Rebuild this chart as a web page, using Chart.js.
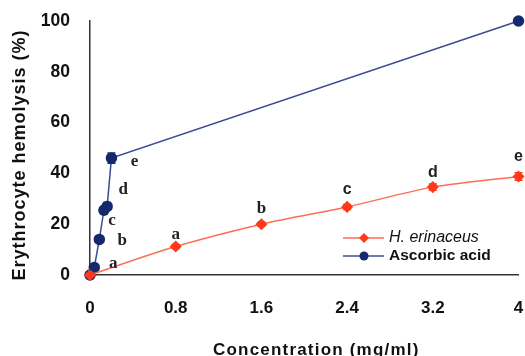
<!DOCTYPE html>
<html>
<head>
<meta charset="utf-8">
<script src="https://cdn.jsdelivr.net/npm/chart.js@4.4.1/dist/chart.umd.min.js"></script>
<style>
  html, body { margin: 0; padding: 0; background: #fff; }
  #wrap { width: 525px; height: 356px; position: relative; }
</style>
</head>
<body>
<div id="wrap"><canvas id="chart" width="525" height="356"></canvas></div>
<script>
// data
const xTicks = [0, 0.8, 1.6, 2.4, 3.2, 4];
const yTicks = [0, 20, 40, 60, 80, 100];

const herConc = [0, 0.8, 1.6, 2.4, 3.2, 4];
const herHemo = [0, 11.2, 20, 26.8, 34.6, 38.8];
const herErr = [0, 0.8, 0.8, 1, 1.2, 1.5];
const herLetters = ['', 'a', 'b', 'c', 'd', 'e'];

const ascConc = [0, 0.04, 0.087, 0.13, 0.16, 0.2, 4];
const ascHemo = [0, 3, 14, 25.5, 27, 46, 100];
const ascErr = [0, 1, 1, 1.5, 1.5, 2, 0];
const ascLetters = ['', 'a', 'b', 'c', 'd', 'e', ''];

const herColor = '#ff3a1a';
const herLine = '#ff6d55';
const ascColor = '#15296b';
const ascLine = '#3a4d92';

const toPts = (xs, ys) => xs.map((x, i) => ({ x: x, y: ys[i] }));

// error bars, letters, titles and legend
const extras = {
    id: 'extras',
    afterDatasetsDraw(chart) {
        const ctx = chart.ctx;
        const xs = chart.scales.x, ys = chart.scales.y;
        const errs = [herErr, ascErr];
        ctx.save();
        chart.data.datasets.forEach((ds, di) => {
            ctx.strokeStyle = di === 0 ? herColor : ascColor;
            ctx.lineWidth = 1.5;
            ds.data.forEach((p, i) => {
                const e = errs[di][i];
                if (!e) return;
                const px = xs.getPixelForValue(p.x);
                const y1 = ys.getPixelForValue(p.y - e), y2 = ys.getPixelForValue(p.y + e);
                ctx.beginPath();
                ctx.moveTo(px, y1); ctx.lineTo(px, y2);
                ctx.moveTo(px - 4, y1); ctx.lineTo(px + 4, y1);
                ctx.moveTo(px - 4, y2); ctx.lineTo(px + 4, y2);
                ctx.stroke();
            });
        });

        ctx.fillStyle = '#222';
        ctx.textAlign = 'center';
        ctx.textBaseline = 'middle';
        // letters over H. erinaceus points
        const herOff = [0, -12, -16, -17, -15, -20];
        herConc.forEach((x, i) => {
            if (!herLetters[i]) return;
            ctx.font = i < 3 ? 'bold 17px "Liberation Serif"' : 'bold 16px "Liberation Sans"';
            ctx.fillText(herLetters[i], xs.getPixelForValue(x), ys.getPixelForValue(herHemo[i]) + herOff[i]);
        });
        // letters beside ascorbic acid points
        const ascOff = [null, [19, -4], [23, 1], [8, 10], [16, -17], [23, 3]];
        ascConc.forEach((x, i) => {
            if (!ascLetters[i]) return;
            ctx.font = 'bold 17px "Liberation Serif"';
            const o = ascOff[i];
            ctx.fillText(ascLetters[i], xs.getPixelForValue(x) + o[0], ys.getPixelForValue(ascHemo[i]) + o[1]);
        });

        // axis titles
        ctx.fillStyle = '#111';
        ctx.font = 'bold 17px "Liberation Sans"';
        ctx.letterSpacing = '1.2px';
        ctx.fillText('Concentration (mg/ml)', (chart.chartArea.left + chart.chartArea.right) / 2 + 12, 350);
        ctx.save();
        ctx.font = 'bold 18px "Liberation Sans"';
        ctx.letterSpacing = '1px';
        ctx.translate(20, 155);
        ctx.rotate(-Math.PI / 2);
        ctx.fillText('Erythrocyte hemolysis (%)', 0, 0);
        ctx.restore();
        ctx.letterSpacing = '0px';

        // legend
        const items = [
            { label: 'H. erinaceus', color: herColor, line: herLine, style: 'diamond', font: 'italic 16px "Liberation Sans"' },
            { label: 'Ascorbic acid', color: ascColor, line: ascLine, style: 'circle', font: 'bold 15.5px "Liberation Sans"' }
        ];
        items.forEach((it, k) => {
            const ly = 238 + k * 18;
            ctx.strokeStyle = it.line;
            ctx.lineWidth = 1.5;
            ctx.beginPath(); ctx.moveTo(343, ly); ctx.lineTo(384, ly); ctx.stroke();
            ctx.fillStyle = it.color;
            ctx.beginPath();
            if (it.style === 'diamond') {
                ctx.moveTo(364, ly - 5); ctx.lineTo(369, ly); ctx.lineTo(364, ly + 5); ctx.lineTo(359, ly);
            } else {
                ctx.arc(364, ly, 4.5, 0, Math.PI * 2);
            }
            ctx.fill();
            ctx.fillStyle = '#111';
            ctx.font = it.font;
            ctx.textAlign = 'left';
            ctx.fillText(it.label, 389, ly);
        });
        ctx.restore();
    }
};

new Chart(document.getElementById('chart'), {
    type: 'line',
    data: {
        datasets: [
            {
                label: 'H. erinaceus',
                data: toPts(herConc, herHemo),
                borderColor: herLine,
                backgroundColor: herColor,
                pointBackgroundColor: herColor,
                pointBorderColor: herColor,
                pointStyle: 'rectRot',
                pointRadius: 5,
                borderWidth: 1.5,
                cubicInterpolationMode: 'monotone'
            },
            {
                label: 'Ascorbic acid',
                data: toPts(ascConc, ascHemo),
                borderColor: ascLine,
                backgroundColor: ascColor,
                pointBackgroundColor: ascColor,
                pointBorderColor: ascColor,
                pointStyle: 'circle',
                pointRadius: 5,
                borderWidth: 1.5,
                tension: 0
            }
        ]
    },
    options: {
        responsive: false,
        animation: false,
        clip: false,
        layout: { padding: { top: 21, right: 5, left: 0, bottom: 0 } },
        plugins: { legend: { display: false }, tooltip: { enabled: false } },
        scales: {
            x: {
                type: 'linear',
                min: 0, max: 4,
                afterBuildTicks: s => { s.ticks = xTicks.map(v => ({ value: v })); },
                afterFit: s => { s.height = 81; s.paddingRight = 0; s.paddingLeft = 0; },
                grid: { display: false, drawTicks: true, tickLength: 6, tickColor: '#333' },
                border: { color: '#333', width: 1.5 },
                ticks: {
                    color: '#111',
                    font: { family: 'Liberation Sans', size: 17, weight: 'bold' },
                    padding: 17,
                    maxRotation: 0,
                    callback: v => String(v)
                }
            },
            y: {
                min: 0, max: 100,
                afterBuildTicks: s => { s.ticks = yTicks.map(v => ({ value: v })); },
                afterFit: s => { s.width = 90; s.paddingTop = 0; s.paddingBottom = 0; },
                grid: { display: false, drawTicks: true, tickLength: 6, tickColor: '#333' },
                border: { color: '#333', width: 1.5 },
                ticks: {
                    color: '#111',
                    font: { family: 'Liberation Sans', size: 17.5, weight: 'bold' },
                    padding: 14
                }
            }
        }
    },
    plugins: [extras]
});
</script>
</body>
</html>
